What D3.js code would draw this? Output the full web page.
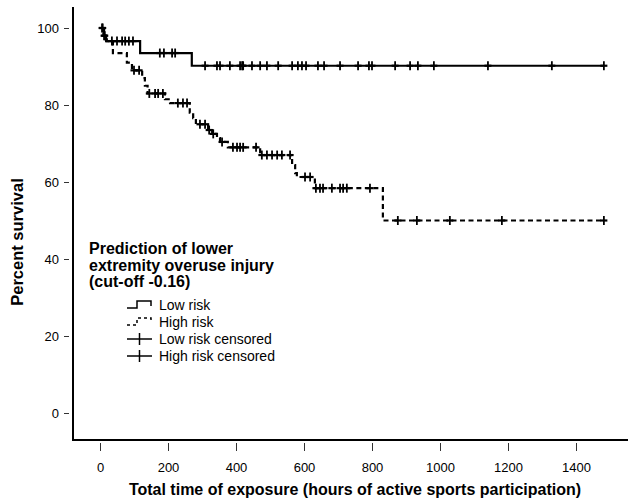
<!DOCTYPE html>
<html>
<head>
<meta charset="utf-8">
<script src="https://cdn.jsdelivr.net/npm/d3@7"></script>
<style>
  body { margin: 0; background: #fff; }
  text { font-family: "Liberation Sans", Arial, sans-serif; fill: #000; }
</style>
</head>
<body>
<div id="chart"></div>
<script>
// step functions: time (hours) where survival changes, and survival after the step
const lowStepTimes = [0, 12, 18, 118, 270];
const lowStepSurv = [100, 98, 96.6, 93.5, 90.2];
const lowCensored = [8, 14, 35, 50, 65, 74, 85, 97, 176, 188, 212, 221, 309, 344, 353, 382, 412, 418,
  421, 447, 471, 491, 524, 565, 582, 594, 606, 641, 659, 706, 759, 791, 800, 868, 912, 935, 982,
  1141, 1329, 1482];

const highStepTimes = [0, 10, 20, 38, 79, 94, 124, 132, 140, 191, 206, 264, 274, 282, 318, 330, 344,
  353, 376, 471, 565, 574, 579, 632, 832];
const highStepSurv = [100, 98, 96.6, 93.5, 91, 89, 87, 85, 83, 81.5, 80.5, 78, 76.6, 75, 73.5, 72.5,
  71.4, 70.4, 69, 67, 64.4, 62.3, 61.3, 58.4, 50];
const highCensored = [6, 12, 100, 115, 145, 162, 171, 185, 229, 244, 256, 294, 309, 321, 333, 359,
  391, 403, 412, 421, 459, 476, 491, 506, 521, 535, 559, 603, 618, 635, 647, 656, 682, 706, 715, 726,
  794, 876, 932, 1029, 1182, 1482];
const endTime = 1482;

const xTicks = [0, 200, 400, 600, 800, 1000, 1200, 1400];
const yTicks = [0, 20, 40, 60, 80, 100];

const legendTitle = ["Prediction of lower", "extremity overuse injury", "(cut-off -0.16)"];
const legendLabels = ["Low risk", "High risk", "Low risk censored", "High risk censored"];

const W = 629, H = 500;
const svg = d3.select("#chart").append("svg").attr("width", W).attr("height", H);

const x = d3.scaleLinear().domain([0, 1400]).range([100, 576]);
const y = d3.scaleLinear().domain([0, 100]).range([413, 28]);

// axes
svg.append("line").attr("x1", 73).attr("x2", 73).attr("y1", 7).attr("y2", 441)
  .attr("stroke", "#000").attr("stroke-width", 2);
svg.append("line").attr("x1", 72).attr("x2", 628).attr("y1", 440).attr("y2", 440)
  .attr("stroke", "#000").attr("stroke-width", 2);

const gx = svg.append("g").attr("transform", "translate(0,443)")
  .call(d3.axisBottom(x).tickValues(xTicks).tickSize(8).tickPadding(12).tickFormat(d3.format("d")));
gx.select(".domain").remove();
gx.selectAll("text").style("font-size", "13px").attr("fill", "#000");
gx.selectAll("line").attr("stroke", "#333");

const gy = svg.append("g").attr("transform", "translate(69,0)")
  .call(d3.axisLeft(y).tickValues(yTicks).tickSize(5).tickPadding(5));
gy.select(".domain").remove();
gy.selectAll("text").style("font-size", "13px").attr("fill", "#000");
gy.selectAll("line").attr("stroke", "#333");

svg.append("text").attr("x", 355).attr("y", 495).attr("text-anchor", "middle")
  .style("font-size", "16px").style("font-weight", "bold")
  .text("Total time of exposure (hours of active sports participation)");
svg.append("text").attr("transform", "translate(23,242) rotate(-90)").attr("text-anchor", "middle")
  .style("font-size", "16.5px").style("font-weight", "bold")
  .text("Percent survival");

// survival curves
function stepPoints(times, surv) {
  const pts = times.map((t, i) => [t, surv[i]]);
  pts.push([endTime, surv[surv.length - 1]]);
  return pts;
}
function survAt(times, surv, t) {
  let s = surv[0];
  times.forEach((tt, i) => { if (tt <= t) s = surv[i]; });
  return s;
}
const line = d3.line().x(d => x(d[0])).y(d => y(d[1])).curve(d3.curveStepAfter);

const curves = [
  { times: lowStepTimes, surv: lowStepSurv, cens: lowCensored, dash: null },
  { times: highStepTimes, surv: highStepSurv, cens: highCensored, dash: "5,3.5" }
];

curves.forEach(c => {
  svg.append("path").datum(stepPoints(c.times, c.surv)).attr("d", line)
    .attr("fill", "none").attr("stroke", "#000").attr("stroke-width", 2.2)
    .attr("stroke-dasharray", c.dash);
  const g = svg.append("g");
  c.cens.forEach(t => {
    const cx = x(t), cy = y(survAt(c.times, c.surv, t));
    g.append("line").attr("x1", cx).attr("x2", cx).attr("y1", cy - 4.5).attr("y2", cy + 4.5)
      .attr("stroke", "#000").attr("stroke-width", 1.8);
    g.append("line").attr("x1", cx - 3.5).attr("x2", cx + 3.5).attr("y1", cy).attr("y2", cy)
      .attr("stroke", "#000").attr("stroke-width", 2.2);
  });
});

// legend
const leg = svg.append("g");
legendTitle.forEach((t, i) => {
  leg.append("text").attr("x", 89).attr("y", 254 + i * 16.5)
    .style("font-size", "16px").style("font-weight", "bold").text(t);
});
const ly = [305, 322, 339, 356];
legendLabels.forEach((t, i) => {
  leg.append("text").attr("x", 159).attr("y", ly[i] + 5).style("font-size", "14px").text(t);
});
// step symbols
const sym = d3.line();
leg.append("path").attr("d", sym([[127, 308], [137, 308], [137, 301], [151, 301], [151, 306]]))
  .attr("fill", "none").attr("stroke", "#000").attr("stroke-width", 1.5);
leg.append("path").attr("d", sym([[127, 325], [137, 325], [137, 318], [151, 318], [151, 323]]))
  .attr("fill", "none").attr("stroke", "#000").attr("stroke-width", 1.5).attr("stroke-dasharray", "3,3");
[2, 3].forEach(i => {
  leg.append("line").attr("x1", 127).attr("x2", 152).attr("y1", ly[i]).attr("y2", ly[i])
    .attr("stroke", "#000").attr("stroke-width", 1.5);
  leg.append("line").attr("x1", 139.5).attr("x2", 139.5).attr("y1", ly[i] - 6).attr("y2", ly[i] + 6)
    .attr("stroke", "#000").attr("stroke-width", 1.5);
});
</script>
</body>
</html>
